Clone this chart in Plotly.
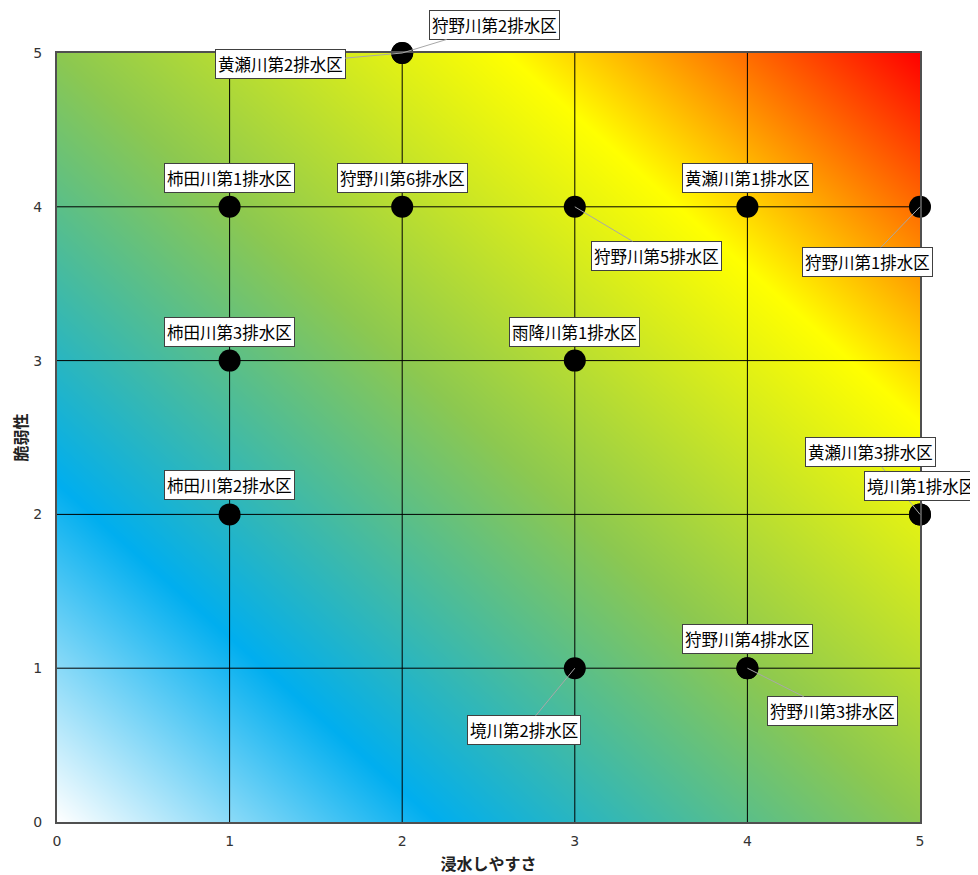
import plotly.graph_objects as go

# ---- data ----
x_ticks = [0, 1, 2, 3, 4, 5]
y_ticks = [0, 1, 2, 3, 4, 5]
grid_vals = [1, 2, 3, 4]

pt_x = [2, 2, 1, 2, 3, 4, 5, 1, 3, 5, 5, 1, 3, 4, 4]
pt_y = [5, 5, 4, 4, 4, 4, 4, 3, 3, 2, 2, 2, 1, 1, 1]
pt_names = ["狩野川第2排水区", "黄瀬川第2排水区", "柿田川第1排水区", "狩野川第6排水区",
            "狩野川第5排水区", "黄瀬川第1排水区", "狩野川第1排水区", "柿田川第3排水区",
            "雨降川第1排水区", "黄瀬川第3排水区", "境川第1排水区", "柿田川第2排水区",
            "境川第2排水区", "狩野川第4排水区", "狩野川第3排水区"]

# background gradient corner values (x+y risk level)
bg_x = [0, 5]
bg_y = [0, 5]
bg_z = [[0, 5], [5, 10]]

# ---- label placement (style, px offsets of label centre from point) ----
label_dx = [92, -122, 0, 0, 82, 0, -53, 0, 0, -50, 1, 0, -51, 0, 85]
label_dy = [-28, 11, -29, -29, 49, -29, 55, -29, -29, -62, -28, -29, 62, -29, 43]
label_arrow = [True, True, False, False, True, False, True, False, False, True,
               False, False, True, False, True]

colorscale = [[0.0, "#ffffff"], [0.22, "#00aeef"], [0.5, "#8cc850"],
              [0.76, "#ffff00"], [1.0, "#ff0000"]]

fig = go.Figure()
fig.add_trace(go.Heatmap(x=bg_x, y=bg_y, z=bg_z, zsmooth="best", colorscale=colorscale,
                         zmin=0, zmax=10, showscale=False, hoverinfo="skip"))
fig.add_trace(go.Scatter(x=pt_x, y=pt_y, mode="markers", cliponaxis=False,
                         marker=dict(size=22, color="black", line=dict(width=0)),
                         text=pt_names, hoverinfo="text"))

shapes = []
for g in grid_vals:
    shapes.append(dict(type="line", xref="x", yref="y", x0=g, x1=g, y0=0, y1=5,
                       line=dict(color="black", width=1)))
    shapes.append(dict(type="line", xref="x", yref="y", x0=0, x1=5, y0=g, y1=g,
                       line=dict(color="black", width=1)))
# light shadow along right and bottom edge
shapes.append(dict(type="line", xref="x", yref="y", xsizemode="pixel", xanchor=5,
                   x0=3, x1=3, y0=-0.005, y1=4.99, line=dict(color="#c8c8c8", width=2)))
shapes.append(dict(type="line", xref="x", yref="y", ysizemode="pixel", yanchor=0,
                   y0=-3, y1=-3, x0=0.01, x1=5.01, line=dict(color="#c8c8c8", width=2)))

annotations = []
for i, name in enumerate(pt_names):
    common = dict(x=pt_x[i], y=pt_y[i], xref="x", yref="y", text=name,
                  font=dict(family="Noto Sans CJK JP", size=16.5, color="black"),
                  bgcolor="white", bordercolor="#404040", borderwidth=1, borderpad=2)
    if label_arrow[i]:
        annotations.append(dict(common, showarrow=True, arrowhead=0, arrowwidth=1,
                                arrowcolor="#a8a8a8", standoff=0, ax=label_dx[i],
                                ay=label_dy[i], axref="pixel", ayref="pixel"))
    else:
        annotations.append(dict(common, showarrow=False, xshift=label_dx[i],
                                yshift=-label_dy[i]))

axis_common = dict(range=[0, 5], tickvals=x_ticks, showgrid=False, zeroline=False,
                   showline=True, linecolor="#505050", linewidth=2, mirror=True,
                   ticks="", tickfont=dict(family="DejaVu Sans", size=14, color="#333333"),
                   layer="above traces", fixedrange=True, automargin=False)

fig.update_layout(
    width=970, height=867,
    margin=dict(l=49, r=58, t=45, b=53),
    paper_bgcolor="white", plot_bgcolor="white",
    showlegend=False,
    xaxis=dict(axis_common, ticklabelstandoff=5,
               title=dict(text="<b>浸水しやすさ</b>", standoff=14,
                          font=dict(family="Noto Sans CJK JP", size=16, color="#222222"))),
    yaxis=dict(axis_common, tickvals=y_ticks, ticklabelstandoff=10,
               title=dict(text="<b>脆弱性</b>", standoff=4,
                          font=dict(family="Noto Sans CJK JP", size=16, color="#222222"))),
    shapes=shapes,
    annotations=annotations,
)

fig.write_html("out.html")
